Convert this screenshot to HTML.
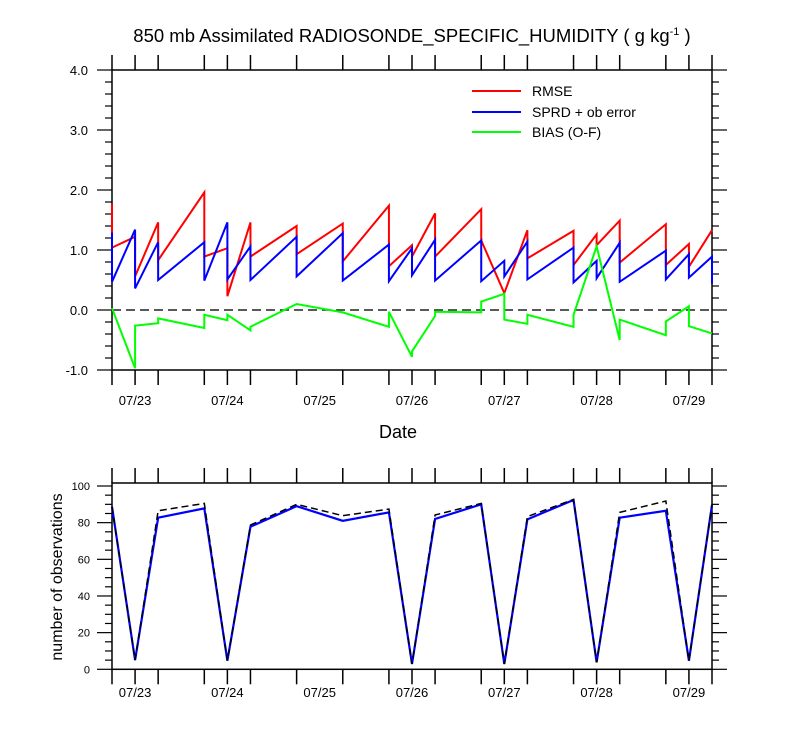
<!DOCTYPE html>
<html><head><meta charset="utf-8"><style>
body{margin:0;background:#fff;}
svg{display:block;font-family:"Liberation Sans",sans-serif;}
</style></head><body>
<svg id="chart" width="800" height="750" viewBox="0 0 800 750" xmlns="http://www.w3.org/2000/svg">
<text x="412" y="42" font-size="18.5" text-anchor="middle">850 mb Assimilated RADIOSONDE_SPECIFIC_HUMIDITY ( g kg<tspan dy="-7" font-size="11">-1</tspan><tspan dy="7"> )</tspan></text>
<g id="topPanel"></g>
<g id="botPanel"></g>
<text x="398" y="438" font-size="18" text-anchor="middle">Date</text>
<text x="0" y="0" font-size="16" text-anchor="middle" transform="translate(62,577) rotate(-90)">number of observations</text>
<g>
<line x1="472" y1="91" x2="521" y2="91" stroke="#f00" stroke-width="2"/>
<text x="532" y="96" font-size="14">RMSE</text>
<line x1="472" y1="112" x2="521" y2="112" stroke="#00f" stroke-width="2"/>
<text x="532" y="117" font-size="14">SPRD + ob error</text>
<line x1="472" y1="132" x2="521" y2="132" stroke="#0f0" stroke-width="2"/>
<text x="532" y="137" font-size="14">BIAS (O-F)</text>
</g>
</svg>
<script>
// hours since 07/22 18Z
const times = [0,6,12,24,30,36,48,60,72,78,84,96,102,108,120,126,132,144,150,156];
const dayLabels = ["07/23","07/24","07/25","07/26","07/27","07/28","07/29"];
const dayHours = [6,30,54,78,102,126,150];
// each time has [before, after] values
const rmse = [[1.77,1.04],[1.22,0.56],[1.46,0.83],[1.96,0.89],[1.03,0.23],[1.46,0.89],[1.40,0.93],[1.44,0.81],[1.74,0.73],[1.08,0.89],[1.61,0.89],[1.68,1.16],[0.28,0.28],[1.33,0.86],[1.32,0.75],[1.26,1.08],[1.49,0.79],[1.43,0.75],[1.10,0.72],[1.33,1.33]];
const sprd = [[1.29,0.47],[1.34,0.36],[1.13,0.50],[1.13,0.49],[1.46,0.51],[1.06,0.50],[1.22,0.56],[1.28,0.49],[1.09,0.48],[1.03,0.58],[1.17,0.49],[1.16,0.48],[0.82,0.56],[1.14,0.51],[1.04,0.46],[0.82,0.53],[1.12,0.47],[0.99,0.51],[0.93,0.54],[0.89,0.44]];
const bias = [[0.03,0.03],[-0.97,-0.26],[-0.22,-0.14],[-0.30,-0.08],[-0.17,-0.08],[-0.34,-0.28],[0.10,0.10],[-0.04,-0.04],[-0.28,-0.03],[-0.78,-0.69],[-0.10,-0.03],[-0.04,0.14],[0.27,-0.16],[-0.23,-0.08],[-0.28,-0.08],[1.06,1.06],[-0.50,-0.16],[-0.42,-0.19],[0.06,-0.27],[-0.39,-0.39]];
const nUsed = [88.7,5,82.7,87.8,4.7,77.8,89,81,85.6,2.9,82,90,2.9,81.8,92.4,3.8,82.7,86.5,4.7,89.6];
const nTotal = [88.7,5,86.5,90.5,4.7,78.7,90,83.8,87.4,2.9,84.2,90.5,2.9,83.3,92.7,3.8,85.6,91.8,4.7,90];
const topTicks = [4.0,3.0,2.0,1.0,0.0,-1.0];
const botTicks = [0,20,40,60,80,100];

const NS="http://www.w3.org/2000/svg";
const X0=112,X1=712;
const xs=h=>X0+(h/156)*(X1-X0);
const yTop=v=>310-v*60;
const yBot=v=>669.3-v*1.833;
function mk(tag,attrs,parent){const e=document.createElementNS(NS,tag);for(const k in attrs)e.setAttribute(k,attrs[k]);parent.appendChild(e);return e;}
const topG=document.getElementById('topPanel'), botG=document.getElementById('botPanel');

function frame(g,yT,yB,name){
  const r=mk('rect',{x:X0,y:yT,width:X1-X0,height:yB-yT,fill:'none',stroke:'#000','stroke-width':1.5},g);
  
  
  times.forEach(t=>{
    const x=xs(t);
    const a=mk('line',{x1:x,y1:yT-15,x2:x,y2:yT,stroke:'#000','stroke-width':1.5},g);
    
    
    const b=mk('line',{x1:x,y1:yB,x2:x,y2:yB+15,stroke:'#000','stroke-width':1.5},g);
    
    
  });
}
function poly(g,pairs,yf,color,name,dash){
  const pts=[];
  pairs.forEach((p,i)=>{pts.push(xs(times[i])+','+yf(p[0]));pts.push(xs(times[i])+','+yf(p[1]));});
  const l=mk('polyline',{points:pts.join(' '),fill:'none',stroke:color,'stroke-width':2,'stroke-linejoin':'miter'},g);
  if(dash)l.setAttribute('stroke-dasharray',dash);
  
  
}
// top panel
frame(topG,70,370,'top');
for(let i=0;i<=25;i++){
  const v=-1+i*0.2;
  const y=yTop(v); const major=i%5===0;
  const len=major?15:7;
  const a=mk('line',{x1:X0-len,y1:y,x2:X0,y2:y,stroke:'#000','stroke-width':1.2},topG);
  
  
  const b=mk('line',{x1:X1,y1:y,x2:X1+len,y2:y,stroke:'#000','stroke-width':1.2},topG);
  
  
}
topTicks.forEach(v=>{
  const t=mk('text',{x:88,y:yTop(v)+5,'font-size':13,'text-anchor':'end'},topG);
  t.textContent=v.toFixed(1);
  
  
});
dayLabels.forEach((d,i)=>{
  const t=mk('text',{x:xs(dayHours[i]),y:405,'font-size':13,'text-anchor':'middle'},topG);
  t.textContent=d;
  
  
});
const zl=mk('line',{x1:X0,y1:yTop(0),x2:X1,y2:yTop(0),stroke:'#222','stroke-width':1.5,'stroke-dasharray':'9,5'},topG);


poly(topG,rmse,yTop,'#f00','rmse-line');
poly(topG,sprd,yTop,'#00f','sprd-line');
poly(topG,bias,yTop,'#0f0','bias-line');

// bottom panel
frame(botG,483,669.3,'bottom');
for(let v=0;v<=100;v+=5){
  const y=yBot(v); const major=v%20===0; const len=major?15:7;
  const a=mk('line',{x1:X0-len,y1:y,x2:X0,y2:y,stroke:'#000','stroke-width':1.2},botG);
  
  
  const b=mk('line',{x1:X1,y1:y,x2:X1+len,y2:y,stroke:'#000','stroke-width':1.2},botG);
  
  
}
botTicks.forEach(v=>{
  const t=mk('text',{x:90,y:yBot(v)+4,'font-size':11,'text-anchor':'end'},botG);
  t.textContent=v;
  
  
});
dayLabels.forEach((d,i)=>{
  const t=mk('text',{x:xs(dayHours[i]),y:697,'font-size':13,'text-anchor':'middle'},botG);
  t.textContent=d;
  
  
});
function simple(g,vals,color,name,dash){
  const pts=vals.map((v,i)=>xs(times[i])+','+yBot(v)).join(' ');
  const l=mk('polyline',{points:pts,fill:'none',stroke:color,'stroke-width':dash?1.5:2.2},g);
  if(dash)l.setAttribute('stroke-dasharray',dash);
  
  
}
simple(botG,nUsed,'#00f','obs-used-line');
simple(botG,nTotal,'#000','obs-total-line','7,4');
</script>
</body></html>
